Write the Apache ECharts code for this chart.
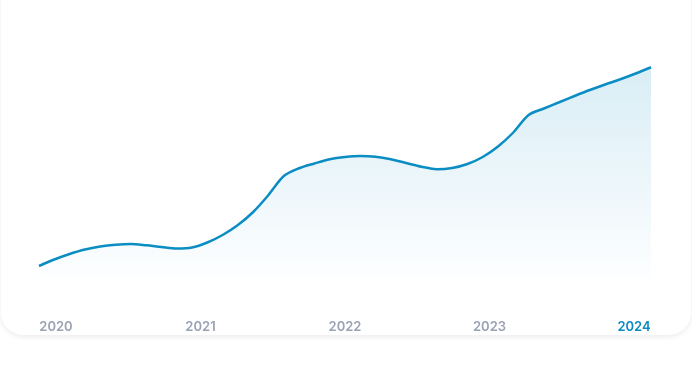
<!DOCTYPE html>
<html>
<head>
<meta charset="utf-8">
<script src="https://cdn.jsdelivr.net/npm/echarts@6/dist/echarts.min.js"></script>
<style>
html,body{margin:0;padding:0;background:#fff;width:692px;height:383px;overflow:hidden;}
#card{position:absolute;left:1px;right:1px;top:-40px;height:375px;background:#fff;border-radius:22px;box-shadow:0 2px 5px rgba(20,30,60,0.08);}
#chart{position:absolute;left:0;top:0;width:692px;height:383px;}
</style>
</head>
<body>
<div id="card"></div>
<div id="chart"></div>
<script>
// data: time in years, values in arbitrary units
const times = [2020.0,2020.1,2020.2,2020.3,2020.4,2020.5,2020.6,2020.7,2020.8,2020.9,
  2021.0,2021.1,2021.2,2021.3,2021.4,2021.5,2021.6,2021.7,2021.8,2021.9,
  2022.0,2022.1,2022.2,2022.3,2022.4,2022.5,2022.6,2022.7,2022.8,2022.9,
  2023.0,2023.1,2023.2,2023.3,2023.4,2023.5,2023.6,2023.7,2023.8,2023.9,2024.0];
const values = [9.6,12.2,14.4,16.2,17.4,18.1,18.4,17.9,17.2,16.6,
  17.0,19.0,22.0,26.0,31.2,38.0,45.6,48.7,50.6,52.3,
  53.2,53.6,53.3,52.3,50.8,49.3,48.3,48.8,50.4,53.2,
  57.4,63.0,70.0,72.6,75.1,77.6,80.0,82.2,84.3,86.6,89.1];
const yearLabels = [2020,2021,2022,2023,2024];
const highlightYear = 2024;

const chart = echarts.init(document.getElementById('chart'), null, {renderer:'canvas'});
chart.setOption({
  animation:false,
  backgroundColor:'transparent',
  grid:{left:39,right:41,top:40,bottom:93},
  xAxis:[
    {type:'value',min:2020,max:2024,show:false},
    {type:'value',min:2020-17/144.5,max:2024+17/144.5,position:'bottom',
     axisLine:{show:false},axisTick:{show:false},splitLine:{show:false},
     axisLabel:{customValues:yearLabels,margin:31,fontFamily:'Inter',fontWeight:600,fontSize:13,
       formatter:v=>String(v),
       color:(v)=> (+v===highlightYear ? '#0a8bc2' : '#9aa2b4')}}
  ],
  yAxis:{type:'value',min:0,max:100,show:false},
  series:[{
    type:'line',xAxisIndex:0,
    data:times.map((t,i)=>[t,values[i]]),
    smooth:0.3,showSymbol:false,
    lineStyle:{color:'#0a8dc3',width:2.5},
    areaStyle:{color:new echarts.graphic.LinearGradient(0,0,0,1,[
      {offset:0,color:'rgba(10,141,195,0.22)'},
      {offset:1,color:'rgba(10,141,195,0)'}])}
  }]
});
</script>
</body>
</html>
